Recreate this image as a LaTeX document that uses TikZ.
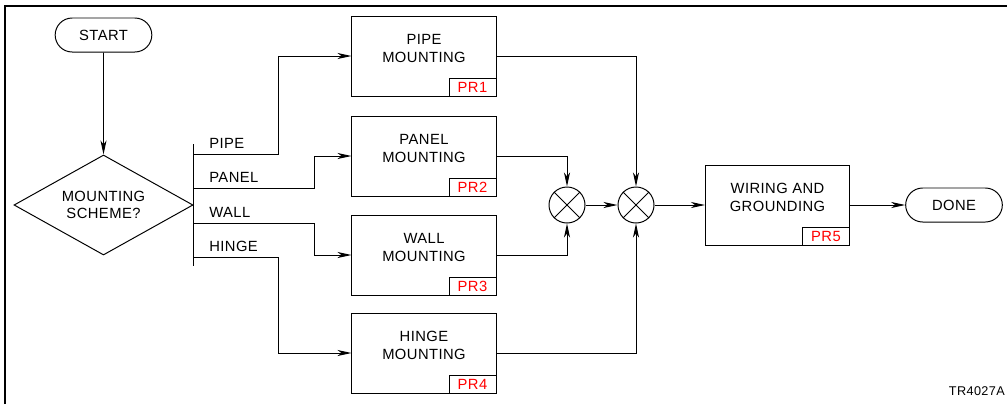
\documentclass[tikz,border=0pt]{standalone}
\usepackage{fontspec}
\setmainfont{Liberation Sans}[LetterSpace=3]
\usetikzlibrary{shapes.geometric, shapes.misc, arrows.meta, positioning, calc}
\definecolor{TagRed}{RGB}{255, 0, 0}

\begin{document}
\begin{tikzpicture}[
            x=0.025cm, y=-0.025cm,
            every node/.style={font=\fontsize{10.5}{12.5}\selectfont},
            line/.style={line width=0.7pt},
            flow/.style={line width=0.7pt, -{Stealth[length=3.5mm, width=1.5mm, inset=1mm]}},
            stepbox/.style={draw, line width=0.7pt, minimum width=3.6cm, minimum height=2cm, align=center, text depth=0.38cm},
            tag/.style={draw, line width=0.7pt, text=TagRed, minimum width=1.175cm, minimum height=0.45cm, inner sep=0pt, anchor=south east},
            term/.style={draw, rounded rectangle, line width=0.7pt, minimum width=2.65cm, minimum height=0.85cm},
            choice/.style={draw, diamond, shape aspect=1.8, inner sep=0pt, minimum width=4.475cm, minimum height=2.5cm, align=center, line width=0.7pt},
            sum/.style={draw, circle, minimum size=0.9cm, inner sep=0pt, line width=0.7pt},
            way/.style={anchor=base west, inner sep=0pt}
        ]
        \useasboundingbox (0,0) rectangle (1007,404);

        % The Frame
        \draw[line width=1.4pt] (5,404) -- (5,6) -- (1007,6);
        \node[anchor=base east, inner sep=0pt, font=\fontsize{9}{10}\selectfont] (fig) at (1005,395) {TR4027A};

        % Start and question
        \node[term] (start) at (103.5,35) {START};
        \node[choice] (scheme) at (103.5,205) {MOUNTING\\SCHEME?};
        \draw[flow] (start) -- (scheme);

        % Branch bar
        \coordinate (bartop) at (193,144);
        \coordinate (barbot) at (193,266);
        \draw[line] (bartop) -- (barbot);
        \coordinate (bpipe) at (193,154);
        \coordinate (bpanel) at (193,188);
        \coordinate (bwall) at (193,223);
        \coordinate (bhinge) at (193,257);

        % The Boxes
        \node[stepbox] (pipe) at (424,56) {PIPE\\MOUNTING};
        \node[stepbox] (panel) at (424,156) {PANEL\\MOUNTING};
        \node[stepbox] (wall) at (424,255) {WALL\\MOUNTING};
        \node[stepbox] (hinge) at (424,353) {HINGE\\MOUNTING};
        \node[tag] (pr1) at (pipe.south east) {PR1};
        \node[tag] (pr2) at (panel.south east) {PR2};
        \node[tag] (pr3) at (wall.south east) {PR3};
        \node[tag] (pr4) at (hinge.south east) {PR4};

        % Branches
        \draw[flow] (bpipe) -- ++(85,0) |- (pipe.west);
        \draw[flow] (bpanel) -- ++(121,0) |- (panel.west);
        \draw[flow] (bwall) -- ++(121,0) |- (wall.west);
        \draw[flow] (bhinge) -- ++(85,0) |- (hinge.west);
        \node[way] (lpipe) at (209,148.5) {PIPE};
        \node[way] (lpanel) at (209,182.5) {PANEL};
        \node[way] (lwall) at (209,217.5) {WALL};
        \node[way] (lhinge) at (209,251.5) {HINGE};

        % Junctions
        \node[sum] (s1) at (567,205) {};
        \node[sum] (s2) at (636,205) {};
        \foreach \s in {s1,s2}
            \draw[line] (\s.north west) -- (\s.south east) (\s.north east) -- (\s.south west);
        \draw[flow] (pipe.east) -| (s2.north);
        \draw[flow] (panel.east) -| (s1.north);
        \draw[flow] (wall.east) -| (s1.south);
        \draw[flow] (hinge.east) -| (s2.south);
        \draw[flow] (s1) -- (s2);

        % Output
        \node[stepbox] (wire) at (777.5,205) {WIRING AND\\GROUNDING};
        \node[tag] (pr5) at (wire.south east) {PR5};
        \node[term] (done) at (954,205) {DONE};
        \draw[flow] (s2) -- (wire);
        \draw[flow] (wire) -- (done);

        \end{tikzpicture}
\end{document}
